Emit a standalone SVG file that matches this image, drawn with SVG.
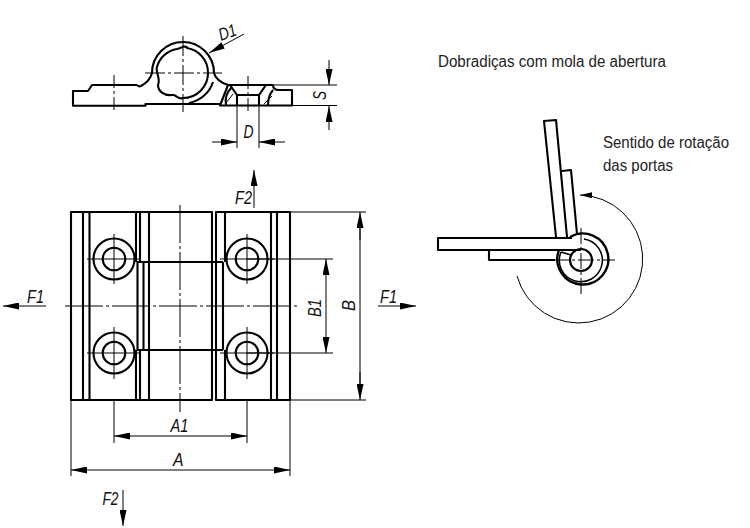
<svg xmlns="http://www.w3.org/2000/svg" width="750" height="528" viewBox="0 0 750 528">
<style>
.k{fill:none;stroke:#000;stroke-width:2.1;stroke-linejoin:round}
.t{fill:none;stroke:#000;stroke-width:1}
.c{fill:none;stroke:#000;stroke-width:1;stroke-dasharray:38 3 3 3}
.a{fill:none;stroke:#000;stroke-width:1;marker-end:url(#h)}
.l{font-family:"Liberation Sans",Arial,sans-serif;font-style:italic;font-size:17.500px;fill:#111}
.n{font-family:"Liberation Sans",Arial,sans-serif;font-size:16px;fill:#222}
</style>
<defs>
<marker id="h" markerUnits="userSpaceOnUse" markerWidth="17" markerHeight="7" refX="16" refY="3.500" orient="auto"><path d="M0 0L16 3.500L0 7z" fill="#000"/></marker>
<marker id="g" markerUnits="userSpaceOnUse" markerWidth="13" markerHeight="7" refX="12" refY="3" orient="auto"><path d="M0 0L12 3L0 6z" fill="#000"/></marker>
<circle id="hole" r="20.500" class="k"/>
</defs>
<rect width="750" height="528" fill="#fff"/>
<g id="side-view">
<path class="k" d="M137 85L92 85L88 91L73 91V105.700H145.500V104H220M137 85Q139 87 141 86Q150 81 152 73A31 31 0 0 1 214 73Q216 81 228 85H273Q273 90 279 90H292V105.500H220L228 85"/>
<path class="k" d="M157 67C155 71 161 79 158 85C158 91 164 96 172 95C176 94 178 100 183 98A25 25 0 0 0 208 73A25 25 0 0 0 187 48C187 46 184 47 183 46.500C182 48 179 48 177 49A25 25 0 0 0 157 67Z"/>
<path class="k" d="M213 82A31 31 0 0 1 189 103M230 85L237 95H259L266 85M237 95V105.500M259 95V105.500M273 90Q268 96 268 105"/>
<path class="k" d="M232 87Q224 95 226 105"/>
<path class="t" d="M226 103L233 94M264 104L272 96"/>
<path class="c" d="M183 36V112M145 73H222" style="stroke-dasharray:20 3 3 3"/>
<path class="c" d="M114 75V113M248 76V113" style="stroke-dasharray:13 3 3 3"/>
</g>
<g id="plan-view">
<path class="k" d="M71 212H212V400H71ZM216 212H290V400H216Z"/>
<path class="k" d="M83 212V400M89.500 212V400M136 212V262M136 350V400M140 212V262M140 350V400M149 212V400M137.500 262V350M143.500 262V350M137 262H223M137 350H223M223 262V350M225 212V262M225 350V400M271 212V400M277 212V400"/>
<g id="hole-tl"><use href="#hole" x="114" y="259"/><circle cx="114" cy="259" r="11.300" class="k"/></g>
<g id="hole-bl"><use href="#hole" x="114" y="353"/><circle cx="114" cy="353" r="11.300" class="k"/></g>
<g id="hole-tr"><use href="#hole" x="247" y="259"/><circle cx="247" cy="259" r="11.300" class="k"/></g>
<g id="hole-br"><use href="#hole" x="247" y="353"/><circle cx="247" cy="353" r="11.300" class="k"/></g>
<path class="c" d="M65 306H300M180 205V412"/>
<path class="t" d="M87 259H141M87 353H141M114 234V284M114 327V379M220 259H274M220 353H274M247 234V284M247 327V379"/>
</g>
<g id="open-view">
<path class="k" d="M581 250H438V238H572M489 250V260H555M489 250H559M556 237L544 121L556 120L567 237M562 171L571 170L577 234"/>
<path class="k" d="M570 237A25.500 25.500 0 1 1 559 250" style="stroke-width:2.400"/>
<path class="k" d="M584 239A21.500 21.500 0 1 1 561 252" style="stroke-width:1.500"/>
<circle cx="581" cy="260" r="11" class="k" style="stroke-width:2.200"/>
<path class="k" d="M561 252L571 255" style="stroke-width:1.500"/>
<path class="t" d="M581 228V294M553 260H615" style="stroke-dasharray:16 3 3 3"/>
<path class="t" d="M517 276A64 64 0 1 0 580 195" style="marker-end:url(#g)"/>
</g>
<g id="connectors">
<path class="a" d="M244 34L209 53"/>
<path class="t" d="M273 85H337M292 105.500H337M237 106V148M259 106V148"/>
<path class="a" d="M329 60V85"/>
<path class="a" d="M329 130V106"/>
<path class="a" d="M212 142H237"/>
<path class="a" d="M285 142H259"/>
<path class="t" d="M290 212H366M290 400H366M247 259H333M247 353H333M71 400V476M290 400V476M114 400V443M247 400V443"/>
<path class="t" d="M360 228V384M326 275V337M130 436H231M87 470H274"/>
<path class="a" d="M360 240V212"/>
<path class="a" d="M360 372V400"/>
<path class="a" d="M326 275V259"/>
<path class="a" d="M326 337V353"/>
<path class="a" d="M130 436H114"/>
<path class="a" d="M231 436H247"/>
<path class="a" d="M87 470H71"/>
<path class="a" d="M274 470H290"/>
<path class="a" d="M123 490V526"/>
<path class="a" d="M254 208V170"/>
<path class="a" d="M46 306H3"/>
<path class="a" d="M378 306H416"/>
</g>
<g id="labels">
<text class="l" transform="translate(221 41) rotate(-20)" textLength="18" lengthAdjust="spacingAndGlyphs">D1</text>
<text class="l" transform="translate(326 100) rotate(-90)" textLength="9" lengthAdjust="spacingAndGlyphs">S</text>
<text class="l" x="243.500" y="138" textLength="10" lengthAdjust="spacingAndGlyphs">D</text>
<text class="l" x="235" y="204" textLength="17" lengthAdjust="spacingAndGlyphs">F2</text>
<text class="l" x="27" y="303" textLength="17" lengthAdjust="spacingAndGlyphs">F1</text>
<text class="l" x="380" y="303" textLength="17" lengthAdjust="spacingAndGlyphs">F1</text>
<text class="l" transform="translate(321 317) rotate(-90)" textLength="18" lengthAdjust="spacingAndGlyphs">B1</text>
<text class="l" transform="translate(355 311) rotate(-90)" textLength="11" lengthAdjust="spacingAndGlyphs">B</text>
<text class="l" x="170.500" y="432" textLength="18" lengthAdjust="spacingAndGlyphs">A1</text>
<text class="l" x="173" y="466" textLength="10.500" lengthAdjust="spacingAndGlyphs">A</text>
<text class="l" x="102.500" y="505" textLength="16" lengthAdjust="spacingAndGlyphs">F2</text>
<text class="n" x="438" y="67" textLength="228" lengthAdjust="spacingAndGlyphs">Dobradiças com mola de abertura</text>
<text class="n" x="603" y="148" textLength="126" lengthAdjust="spacingAndGlyphs">Sentido de rotação</text>
<text class="n" x="603" y="171" textLength="70" lengthAdjust="spacingAndGlyphs">das portas</text>
</g>
</svg>
